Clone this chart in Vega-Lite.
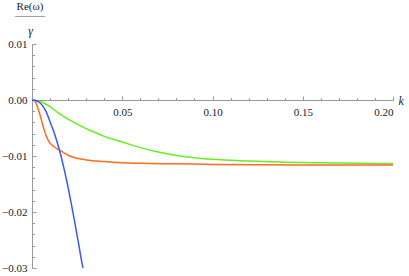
{
  "$schema": "https://vega.github.io/schema/vega-lite/v6.json",
  "width": 361,
  "height": 224,
  "autosize": "none",
  "padding": {"left": 32, "top": 44, "right": 16, "bottom": 8},
  "config": {"font": "Liberation Serif", "view": {"stroke": null},
    "axis": {"grid": false, "labelFont": "Liberation Serif", "titleFont": "Liberation Serif"},
    "style": {"guide-label": {"font": "Liberation Serif"}, "guide-title": {"font": "Liberation Serif"}},
    "title": {"font": "Liberation Serif", "subtitleFont": "Liberation Serif"}},
  "title": {"text": "Re(ω)", "subtitle": "――――", "anchor": "start", "align": "center", "dx": -2, "frame": "group",
    "fontSize": 11, "fontWeight": "normal", "color": "#222",
    "subtitleFontSize": 7.5, "subtitleColor": "#222", "subtitlePadding": 0, "offset": 5},
  "data": {"values": [
    {"s": "green", "k": 0, "v": 0},
    {"s": "green", "k": 0.005, "v": -0.0003},
    {"s": "green", "k": 0.01, "v": -0.0012},
    {"s": "green", "k": 0.015, "v": -0.0024},
    {"s": "green", "k": 0.02, "v": -0.0034},
    {"s": "green", "k": 0.025, "v": -0.0043},
    {"s": "green", "k": 0.03, "v": -0.0051},
    {"s": "green", "k": 0.035, "v": -0.0058},
    {"s": "green", "k": 0.04, "v": -0.0065},
    {"s": "green", "k": 0.05, "v": -0.0075},
    {"s": "green", "k": 0.06, "v": -0.0085},
    {"s": "green", "k": 0.07, "v": -0.0093},
    {"s": "green", "k": 0.08, "v": -0.0099},
    {"s": "green", "k": 0.09, "v": -0.0103},
    {"s": "green", "k": 0.10, "v": -0.0106},
    {"s": "green", "k": 0.12, "v": -0.0109},
    {"s": "green", "k": 0.14, "v": -0.0111},
    {"s": "green", "k": 0.16, "v": -0.0112},
    {"s": "green", "k": 0.18, "v": -0.0113},
    {"s": "green", "k": 0.20, "v": -0.0114},
    {"s": "orange", "k": 0, "v": 0},
    {"s": "orange", "k": 0.001, "v": -0.0001},
    {"s": "orange", "k": 0.002, "v": -0.0004},
    {"s": "orange", "k": 0.003, "v": -0.0012},
    {"s": "orange", "k": 0.004, "v": -0.0022},
    {"s": "orange", "k": 0.005, "v": -0.0033},
    {"s": "orange", "k": 0.006, "v": -0.0045},
    {"s": "orange", "k": 0.007, "v": -0.0056},
    {"s": "orange", "k": 0.008, "v": -0.0065},
    {"s": "orange", "k": 0.009, "v": -0.0072},
    {"s": "orange", "k": 0.010, "v": -0.0077},
    {"s": "orange", "k": 0.012, "v": -0.0083},
    {"s": "orange", "k": 0.015, "v": -0.0089},
    {"s": "orange", "k": 0.018, "v": -0.0095},
    {"s": "orange", "k": 0.021, "v": -0.0100},
    {"s": "orange", "k": 0.025, "v": -0.0104},
    {"s": "orange", "k": 0.03, "v": -0.0107},
    {"s": "orange", "k": 0.04, "v": -0.0110},
    {"s": "orange", "k": 0.05, "v": -0.0112},
    {"s": "orange", "k": 0.06, "v": -0.0113},
    {"s": "orange", "k": 0.08, "v": -0.0114},
    {"s": "orange", "k": 0.10, "v": -0.0115},
    {"s": "orange", "k": 0.15, "v": -0.0116},
    {"s": "orange", "k": 0.20, "v": -0.0116},
    {"s": "blue", "k": 0, "v": 0},
    {"s": "blue", "k": 0.002, "v": -0.0001},
    {"s": "blue", "k": 0.004, "v": -0.0004},
    {"s": "blue", "k": 0.006, "v": -0.0011},
    {"s": "blue", "k": 0.008, "v": -0.0022},
    {"s": "blue", "k": 0.010, "v": -0.0039},
    {"s": "blue", "k": 0.012, "v": -0.0056},
    {"s": "blue", "k": 0.014, "v": -0.0076},
    {"s": "blue", "k": 0.016, "v": -0.0099},
    {"s": "blue", "k": 0.018, "v": -0.0126},
    {"s": "blue", "k": 0.020, "v": -0.0156},
    {"s": "blue", "k": 0.022, "v": -0.0189},
    {"s": "blue", "k": 0.024, "v": -0.0224},
    {"s": "blue", "k": 0.026, "v": -0.0260},
    {"s": "blue", "k": 0.028, "v": -0.0296},
    {"s": "blue", "k": 0.0283, "v": -0.0300}
  ]},
  "layer": [
    {
      "mark": {"type": "line", "strokeWidth": 1.5, "interpolate": "monotone"},
      "encoding": {
        "x": {"field": "k", "type": "quantitative", "scale": {"domain": [0, 0.2], "nice": false, "zero": false},
          "axis": {"orient": "bottom", "offset": -168, "values": [0.05, 0.1, 0.15, 0.2], "format": ".2f",
            "tickSize": -4, "tickColor": "#999", "domainColor": "#999", "labelFont": "Liberation Serif", "labelFontSize": 11, "labelColor": "#222",
            "labelPadding": 16, "labelBaseline": "middle",
            "title": "k", "titleFont": "Liberation Serif", "titleFontStyle": "italic", "titleFontWeight": "normal", "titleFontSize": 12, "titleColor": "#222",
            "titleX": 366, "titleY": 0, "titleAlign": "left", "titleBaseline": "middle", "titleAngle": 0}},
        "y": {"field": "v", "type": "quantitative", "scale": {"domain": [-0.03, 0.01], "nice": false, "zero": false},
          "axis": {"orient": "left", "values": [-0.03, -0.02, -0.01, 0, 0.01], "format": ".2f",
            "tickSize": -4, "tickColor": "#999", "domainColor": "#999", "labelFont": "Liberation Serif", "labelFontSize": 11, "labelColor": "#222",
            "labelPadding": 9,
            "title": "γ", "titleFont": "Liberation Serif", "titleFontWeight": "normal", "titleFontStyle": "italic", "titleFontSize": 12, "titleColor": "#222",
            "titleX": -2, "titleY": -14, "titleAlign": "center", "titleBaseline": "middle", "titleAngle": 0}},
        "color": {"field": "s", "type": "nominal", "scale": {"domain": ["green", "orange", "blue"], "range": ["#66ee22", "#ff6a1e", "#3a58f6"]}, "legend": null}
      }
    },
    {
      "mark": {"type": "point", "opacity": 0},
      "encoding": {
        "x": {"field": "k", "type": "quantitative",
          "axis": {"orient": "bottom", "offset": -168, "values": [0.01, 0.02, 0.03, 0.04, 0.06, 0.07, 0.08, 0.09, 0.11, 0.12, 0.13, 0.14, 0.16, 0.17, 0.18, 0.19],
            "tickSize": -2.5, "tickColor": "#999", "domain": false, "labels": false, "title": null}},
        "y": {"field": "v", "type": "quantitative",
          "axis": {"orient": "left", "values": [-0.028, -0.026, -0.024, -0.022, -0.018, -0.016, -0.014, -0.012, -0.008, -0.006, -0.004, -0.002, 0.002, 0.004, 0.006, 0.008],
            "tickSize": -2.5, "tickColor": "#999", "domain": false, "labels": false, "title": null}}
      }
    }
  ],
  "resolve": {"axis": {"x": "independent", "y": "independent"}}
}
